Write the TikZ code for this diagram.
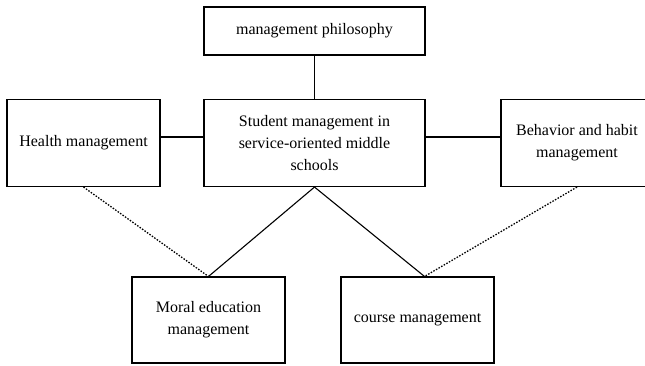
\documentclass[tikz,border=0pt]{standalone}
\usepackage{fontspec}
\setmainfont{Liberation Serif}
\begin{document}
\begin{tikzpicture}[x=1pt,y=1pt,
    box/.style={draw=black,line width=1.1pt,align=center,inner sep=2pt,
                font=\fontsize{16}{22}\selectfont},
    link/.style={line width=1.1pt},
    weak/.style={line width=1.3pt,dash pattern=on 1.5pt off 1.5pt}]
      \useasboundingbox (0,0) rectangle (645,-365);
      \node[box,minimum width=221,minimum height=48] (phil) at (314.5,-31)
           {management philosophy};
      \node[box,minimum width=221,minimum height=87] (core) at (314.5,-143)
           {Student management in\\service-oriented middle\\schools};
      \node[box,minimum width=153,minimum height=87] (health) at (83.5,-143)
           {Health management};
      \node[box,minimum width=152,minimum height=87] (habit) at (577,-143)
           {Behavior and habit\\management};
      \node[box,minimum width=153,minimum height=86] (moral) at (208.5,-320)
           {Moral education\\management};
      \node[box,minimum width=153,minimum height=86] (course) at (417.5,-320)
           {course management};
      \coordinate (courseTop) at ([xshift=7]course.north);
      \draw[link] (phil.south) -- (core.north);
      \draw[link] ([yshift=6]health.east) -- ([yshift=6]core.west);
      \draw[link] ([yshift=6]core.east) -- ([yshift=6]habit.west);
      \draw[link] (core.south) -- (moral.north);
      \draw[link] (core.south) -- (courseTop);
      \draw[weak] (health.south) -- (moral.north);
      \draw[weak] (habit.south) -- (courseTop);
\end{tikzpicture}
\end{document}
